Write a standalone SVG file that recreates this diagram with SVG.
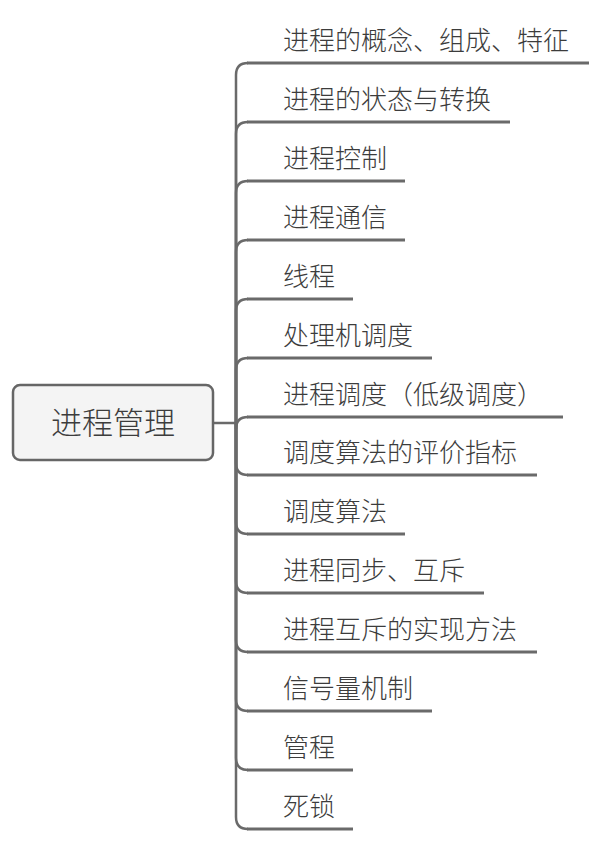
<svg xmlns="http://www.w3.org/2000/svg" width="601" height="846" viewBox="0 0 601 846">
<style>
  .bg{fill:#ffffff}
  .root rect{fill:#f4f4f4;stroke:#666666;stroke-width:2.5}
  .root text{font-family:"Noto Sans CJK SC","Microsoft YaHei",sans-serif;font-size:31px;font-weight:300;fill:#3c3c3c;text-anchor:middle}
  .node text{font-family:"Noto Sans CJK SC","Microsoft YaHei",sans-serif;font-size:26px;font-weight:300;fill:#3c3c3c}
  .node line{stroke:#6a6a6a;stroke-width:3;stroke-linecap:butt}
  #connectors path{fill:none;stroke:#6a6a6a;stroke-width:2.5}
</style>
<rect class="bg" x="0" y="0" width="601" height="846"/>
<g id="connectors">
  <path d="M214,423 H236"/>
  <path d="M236,423 V75 Q236,63 248,63"/>
  <path d="M236,423 V134 Q236,122 248,122"/>
  <path d="M236,423 V193 Q236,181 248,181"/>
  <path d="M236,423 V252 Q236,240 248,240"/>
  <path d="M236,423 V311 Q236,299 248,299"/>
  <path d="M236,423 V370 Q236,358 248,358"/>
  <path d="M236,423 V429 Q236,417 248,417"/>
  <path d="M236,423 V463 Q236,475 248,475"/>
  <path d="M236,423 V522 Q236,534 248,534"/>
  <path d="M236,423 V581 Q236,593 248,593"/>
  <path d="M236,423 V640 Q236,652 248,652"/>
  <path d="M236,423 V699 Q236,711 248,711"/>
  <path d="M236,423 V758 Q236,770 248,770"/>
  <path d="M236,423 V817 Q236,829 248,829"/>
</g>
<g id="root" class="root">
  <rect x="13" y="385" width="200" height="75" rx="7" ry="7"/>
  <text x="113" y="434">进程管理</text>
</g>
<g id="n1" class="node"><text x="283" y="50">进程的概念、组成、特征</text><line x1="247" y1="63" x2="589" y2="63"/></g>
<g id="n2" class="node"><text x="283" y="109">进程的状态与转换</text><line x1="247" y1="122" x2="510" y2="122"/></g>
<g id="n3" class="node"><text x="283" y="168">进程控制</text><line x1="247" y1="181" x2="405" y2="181"/></g>
<g id="n4" class="node"><text x="283" y="227">进程通信</text><line x1="247" y1="240" x2="405" y2="240"/></g>
<g id="n5" class="node"><text x="283" y="286">线程</text><line x1="247" y1="299" x2="353" y2="299"/></g>
<g id="n6" class="node"><text x="283" y="345">处理机调度</text><line x1="247" y1="358" x2="432" y2="358"/></g>
<g id="n7" class="node"><text x="283" y="404">进程调度（低级调度）</text><line x1="247" y1="417" x2="563" y2="417"/></g>
<g id="n8" class="node"><text x="283" y="462">调度算法的评价指标</text><line x1="247" y1="475" x2="537" y2="475"/></g>
<g id="n9" class="node"><text x="283" y="521">调度算法</text><line x1="247" y1="534" x2="405" y2="534"/></g>
<g id="n10" class="node"><text x="283" y="580">进程同步、互斥</text><line x1="247" y1="593" x2="484" y2="593"/></g>
<g id="n11" class="node"><text x="283" y="639">进程互斥的实现方法</text><line x1="247" y1="652" x2="537" y2="652"/></g>
<g id="n12" class="node"><text x="283" y="698">信号量机制</text><line x1="247" y1="711" x2="432" y2="711"/></g>
<g id="n13" class="node"><text x="283" y="757">管程</text><line x1="247" y1="770" x2="353" y2="770"/></g>
<g id="n14" class="node"><text x="283" y="816">死锁</text><line x1="247" y1="829" x2="353" y2="829"/></g>
</svg>
